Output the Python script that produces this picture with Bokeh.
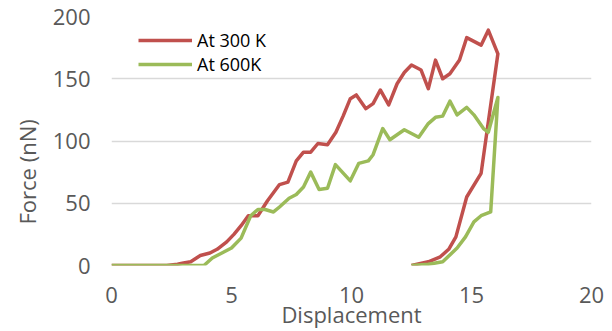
from bokeh.plotting import figure
from bokeh.models import Range1d, Legend, LegendItem, Title, FixedTicker
from bokeh.embed import file_html
from bokeh.resources import INLINE

# ---- data ----
x300 = [0, 0.5, 1.0, 1.5, 2.0, 2.3, 2.75, 3.0, 3.3, 3.7, 4.1, 4.4, 4.8, 5.1, 5.4, 5.7,
        6.1, 6.5, 7.0, 7.35, 7.7, 8.0, 8.3, 8.6, 9.0, 9.35, 9.65, 9.95, 10.2, 10.6,
        10.9, 11.2, 11.55, 11.9, 12.2, 12.5, 12.9, 13.2, 13.5, 13.8, 14.1, 14.5, 14.8,
        15.4, 15.7, 16.1, 15.4, 14.8, 14.35, 14.05, 13.7, 13.2, 12.5]
y300 = [0, 0, 0, 0, 0, 0, 1, 2, 3, 8, 10, 13, 19, 25, 32, 40,
        40, 52, 65, 67, 84, 91, 91, 98, 97, 107, 120, 134, 137, 126,
        130, 141, 129, 146, 155, 161, 157, 142, 165, 150, 154, 165, 183,
        177, 189, 170, 74, 55, 23, 13, 7, 3, 0]

x600 = [0, 0.5, 1.0, 1.5, 2.0, 2.5, 3.0, 3.5, 3.85, 4.2, 4.6, 5.0, 5.4, 5.8, 6.1,
        6.4, 6.75, 7.0, 7.4, 7.7, 8.0, 8.3, 8.65, 9.0, 9.33, 9.95, 10.3, 10.7, 10.9,
        11.3, 11.6, 12.2, 12.8, 13.2, 13.5, 13.8, 14.1, 14.4, 14.8, 15.1, 15.5, 15.7,
        16.1, 15.8, 15.4, 15.1, 14.75, 14.4, 13.8, 13.2, 12.5]
y600 = [0, 0, 0, 0, 0, 0, 0, 0, 0, 6, 10, 14, 22, 40, 45,
        45, 43, 47, 54, 57, 63, 75, 61, 62, 81, 68, 82, 84, 89,
        110, 101, 109, 103, 114, 119, 120, 132, 121, 127, 121, 110, 107,
        135, 43, 40, 35, 23, 14, 3, 1, 0]

series_names = ["At 300 K", "At 600K"]
x_ticks = [0, 5, 10, 15, 20]
y_ticks = [0, 50, 100, 150, 200]
x_title = "Displacement"
y_title = "Force (nN)"

RED = "#C0504D"
GREEN = "#9BBB59"
TXT = "#595959"
FONT = "Open Sans"

p = figure(width=604, height=331, output_backend="svg", toolbar_location=None,
           x_range=Range1d(0, 20), y_range=Range1d(0, 200),
           min_border_left=111, min_border_right=13, min_border_top=16,
           min_border_bottom=65)
p.outline_line_color = None
p.background_fill_color = "white"
p.border_fill_color = "white"

r1 = p.line(x300, y300, line_color=RED, line_width=3.5, line_join="round")
r2 = p.line(x600, y600, line_color=GREEN, line_width=3.5, line_join="round")

p.xgrid.grid_line_color = None
p.ygrid.grid_line_color = "#D9D9D9"
p.ygrid.grid_line_width = 1.5

for ax in (p.xaxis[0], p.yaxis[0]):
    ax.axis_line_color = None
    ax.major_tick_line_color = None
    ax.minor_tick_line_color = None
    ax.major_tick_out = 0
    ax.major_tick_in = 0
    ax.major_label_text_font = FONT
    ax.major_label_text_font_size = "22px"
    ax.major_label_text_color = TXT

p.xaxis[0].ticker = FixedTicker(ticks=x_ticks)
p.yaxis[0].ticker = FixedTicker(ticks=y_ticks)
p.xaxis[0].major_label_standoff = 21
p.yaxis[0].major_label_standoff = 21

p.xaxis[0].axis_label = x_title
p.xaxis[0].axis_label_standoff = -7
p.xaxis[0].axis_label_text_font = FONT
p.xaxis[0].axis_label_text_font_size = "22px"
p.xaxis[0].axis_label_text_font_style = "normal"
p.xaxis[0].axis_label_text_color = TXT

p.add_layout(Title(text=y_title, align="left", offset=41, standoff=16,
                   text_font=FONT, text_font_size="22px",
                   text_font_style="normal", text_color=TXT), "left")

legend = Legend(items=[LegendItem(label=series_names[0], renderers=[r1]),
                       LegendItem(label=series_names[1], renderers=[r2])],
                location=(27, 189), margin=0, padding=0, spacing=0,
                glyph_width=54, glyph_height=24, label_height=24,
                label_standoff=5, label_text_font=FONT,
                label_text_font_size="18px", label_text_color="#000000",
                border_line_color=None, background_fill_alpha=0)
p.add_layout(legend)

open("out.html", "w").write(file_html(p, INLINE))
